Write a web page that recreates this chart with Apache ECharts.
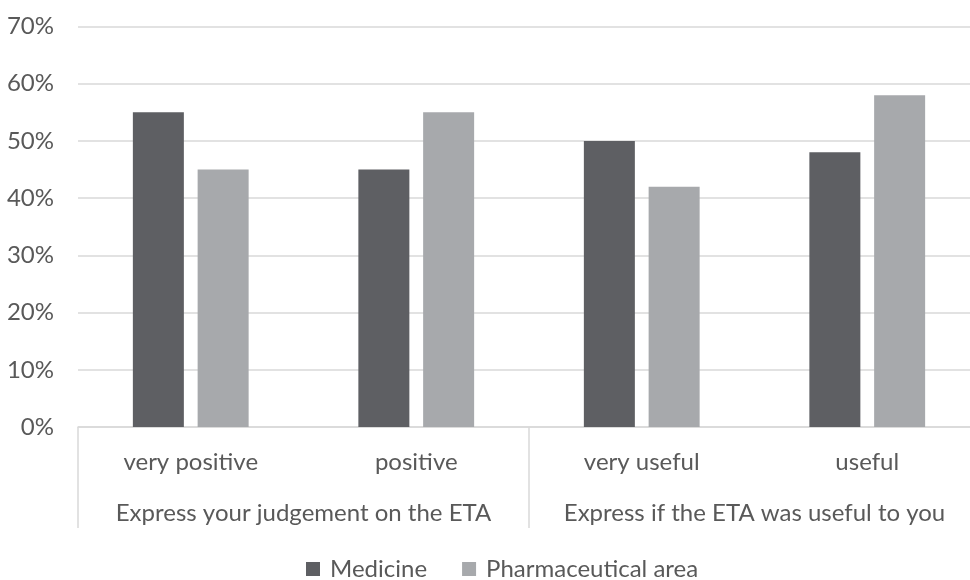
<!DOCTYPE html>
<html><head><meta charset="utf-8">
<script src="https://cdn.jsdelivr.net/npm/echarts@6/dist/echarts.min.js"></script>
<style>html,body{margin:0;padding:0;background:#fff}#c{width:970px;height:580px}</style>
</head><body><div id="c"></div>
<script>
const categories = ['very positive', 'positive', 'very useful', 'useful'];
const groups = ['Express your judgement on the ETA', 'Express if the ETA was useful to you'];
const medicine = [55, 45, 50, 48];
const pharma = [45, 55, 42, 58];
const yTicks = [0, 10, 20, 30, 40, 50, 60, 70];

const FONT = 'Lato';
const FS = 24;
const TXT = '#595959';
const chart = echarts.init(document.getElementById('c'), null, {renderer: 'canvas'});
chart.setOption({
  animation: false,
  textStyle: {fontFamily: FONT},
  grid: {left: 78, width: 902, top: 26.5, height: 400.5, containLabel: false, outerBoundsMode: 'none'},
  legend: {
    top: 552, left: 301, icon: 'rect', itemWidth: 14, itemHeight: 14, itemGap: 35,
    textStyle: {fontFamily: FONT, fontSize: FS, color: TXT, padding: [0, 0, 0, 5]},
    data: ['Medicine', 'Pharmaceutical area']
  },
  xAxis: [{
    type: 'category', data: categories, position: 'bottom',
    axisLine: {show: true, lineStyle: {color: '#d9d9d9', width: 1.5}},
    axisTick: {show: false},
    axisLabel: {interval: 0, margin: 23, fontSize: FS, color: TXT, fontFamily: FONT}
  }, {
    type: 'category', data: groups, position: 'bottom',
    axisLine: {show: false},
    axisTick: {show: true, interval: 0, length: 101, lineStyle: {color: '#d9d9d9', width: 1.5}},
    axisLabel: {interval: 0, margin: 74, fontSize: FS, color: TXT, fontFamily: FONT}
  }],
  yAxis: {
    type: 'value', min: yTicks[0], max: yTicks[yTicks.length - 1], interval: 10,
    axisLine: {show: false}, axisTick: {show: false},
    axisLabel: {formatter: '{value}%', margin: 24, fontSize: FS, color: TXT, fontFamily: FONT},
    splitLine: {lineStyle: {color: '#d9d9d9', width: 1.5}}
  },
  series: [{
    name: 'Medicine', type: 'bar', data: medicine, barWidth: 51, barGap: '27%',
    itemStyle: {color: '#5e5f63'}
  }, {
    name: 'Pharmaceutical area', type: 'bar', data: pharma, barWidth: 51,
    itemStyle: {color: '#a7a9ac'}
  }]
});
</script></body></html>
